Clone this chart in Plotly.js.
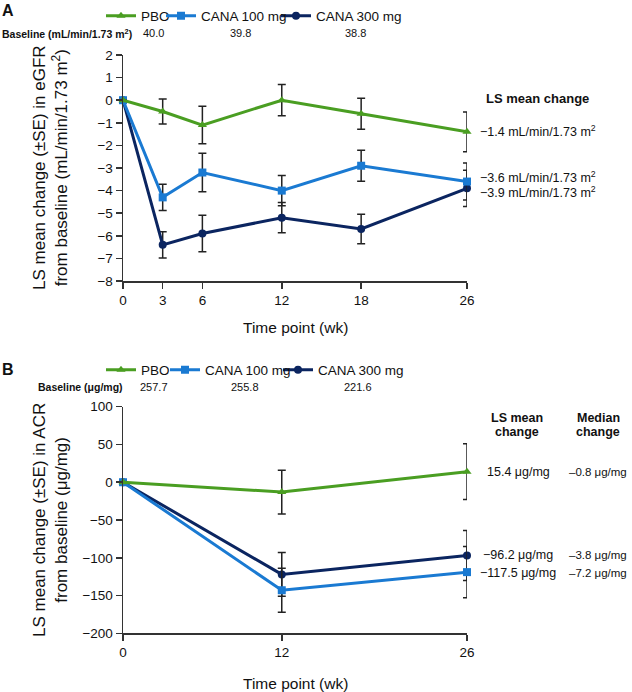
<!DOCTYPE html>
<html>
<head>
<meta charset="utf-8">
<script src="https://cdn.plot.ly/plotly-3.0.1.min.js"></script>
<style>html,body{margin:0;padding:0;background:#fff}#chart{width:632px;height:692px}</style>
</head>
<body>
<div id="chart"></div>
<script>
// ---------- DATA ----------
const seriesNames = ['PBO', 'CANA 100 mg', 'CANA 300 mg'];
const weeksA = [0, 3, 6, 12, 18, 26];
const pboA = [0, -0.5, -1.1, 0, -0.6, -1.4];
const pboA_se = [0, 0.55, 0.83, 0.69, 0.69, 0.88];
const cana100A = [0, -4.3, -3.2, -4.0, -2.9, -3.6];
const cana100A_se = [0, 0.58, 0.85, 0.67, 0.69, 0.82];
const cana300A = [0, -6.4, -5.9, -5.2, -5.7, -3.9];
const cana300A_se = [0, 0.58, 0.81, 0.67, 0.65, 0.8];
const baselineA = ['40.0', '39.8', '38.8'];
const lsLabelsA = ['\u22121.4 mL/min/1.73 m<sup>2</sup>', '\u22123.6 mL/min/1.73 m<sup>2</sup>', '\u22123.9 mL/min/1.73 m<sup>2</sup>'];

const weeksB = [0, 12, 26];
const pboB = [0, -13, 14];
const pboB_se = [0, 29, 37];
const cana100B = [0, -143, -119];
const cana100B_se = [0, 29, 34];
const cana300B = [0, -122, -97];
const cana300B_se = [0, 29, 33];
const baselineB = ['257.7', '255.8', '221.6'];
const lsLabelsB = ['15.4 \u03bcg/mg', '\u2212117.5 \u03bcg/mg', '\u221296.2 \u03bcg/mg'];
const medLabelsB = ['\u20130.8 \u03bcg/mg', '\u20137.2 \u03bcg/mg', '\u20133.8 \u03bcg/mg'];

const tickValsA = [0, 3, 6, 12, 18, 26];
const tickValsB = [0, 12, 26];

// ---------- STYLE ----------
const FONT = '"Liberation Sans", Arial, Helvetica, sans-serif';
const colors = ['#4a9e22', '#1a7ad2', '#0b2560'];
const symbols = ['triangle-up', 'square', 'circle'];
const W = 632, H = 692;
const px = v => v / W;
const py = v => 1 - v / H;

function mk(x, y, se, i, xa, ya, leg) {
  return {
    type: 'scatter', mode: 'lines+markers', x: x, y: y,
    name: seriesNames[i], xaxis: xa, yaxis: ya, legend: leg,
    cliponaxis: false,
    line: {color: colors[i], width: 3},
    marker: {color: colors[i], symbol: symbols[i], size: 8},
    error_y: {type: 'data', array: se, visible: true, color: '#222', thickness: 1.5, width: 4},
    hoverinfo: 'skip'
  };
}

const traces = [
  mk(weeksA, cana300A, cana300A_se, 2, 'x', 'y', 'legend3'),
  mk(weeksA, cana100A, cana100A_se, 1, 'x', 'y', 'legend2'),
  mk(weeksA, pboA, pboA_se, 0, 'x', 'y', 'legend'),
  mk(weeksB, cana300B, cana300B_se, 2, 'x2', 'y2', 'legend6'),
  mk(weeksB, cana100B, cana100B_se, 1, 'x2', 'y2', 'legend5'),
  mk(weeksB, pboB, pboB_se, 0, 'x2', 'y2', 'legend4')
];

const axisCommon = {
  showline: true, linecolor: '#333', linewidth: 1.5, ticks: 'outside', ticklen: 6,
  tickwidth: 1.5, tickcolor: '#333', showgrid: false, zeroline: false,
  tickfont: {family: FONT, size: 13.5, color: '#111'}, fixedrange: true
};

const xDom = [px(123), px(467)];
const annFont = (s, bold) => ({family: FONT, size: s, color: '#111', weight: bold ? 'bold' : 'normal'});

const ann = [];
function A(text, x, y, xanchor, size, bold, extra) {
  ann.push(Object.assign({text: text, x: x, y: y, xref: 'paper', yref: 'paper', xanchor: xanchor, yanchor: 'middle',
    showarrow: false, font: annFont(size, bold)}, extra || {}));
}
// panel letters
A('<b>A</b>', 0, py(11), 'left', 16, true);
A('<b>B</b>', 0, py(369), 'left', 16, true);
// baselines
A('<b>Baseline (mL/min/1.73 m<sup>2</sup>)</b>', 0, py(33), 'left', 10.5, true);
[153, 240, 355].forEach((cx, i) => A(baselineA[i], px(cx), py(33), 'center', 11));
A('<b>Baseline (\u03bcg/mg)</b>', px(125), py(387), 'right', 10.5, true);
[154, 245, 358].forEach((cx, i) => A(baselineB[i], px(cx), py(387), 'center', 11));
// axis titles
A('LS mean change (\u00b1SE) in eGFR<br>from baseline (mL/min/1.73 m<sup>2</sup>)', px(50), py(168), 'center', 17, false, {textangle: -90});
A('LS mean change (\u00b1SE) in ACR<br>from baseline (\u03bcg/mg)', px(50), py(520), 'center', 17, false, {textangle: -90});
A('Time point (wk)', px(295), py(327), 'center', 15.5);
A('Time point (wk)', px(295), py(683), 'center', 15.5);
// right side labels A
A('<b>LS mean change</b>', px(537), py(98), 'center', 13, true);
A(lsLabelsA[0], px(478), py(131), 'left', 12.5);
A(lsLabelsA[1], px(478), py(177), 'left', 12.5);
A(lsLabelsA[2], px(478), py(192), 'left', 12.5);
// right side labels B
A('<b>LS mean</b>', px(517), py(418), 'center', 12.5, true);
A('<b>change</b>', px(517), py(432), 'center', 12.5, true);
A('<b>Median</b>', px(598), py(418), 'center', 12.5, true);
A('<b>change</b>', px(598), py(432), 'center', 12.5, true);
A(lsLabelsB[0], px(485), py(472), 'left', 12.5);
A(medLabelsB[0], px(567), py(472), 'left', 11.5);
A(lsLabelsB[2], px(481), py(555), 'left', 12.5);
A(medLabelsB[2], px(567), py(555), 'left', 11.5);
A(lsLabelsB[1], px(478), py(573), 'left', 12.5);
A(medLabelsB[1], px(567), py(573), 'left', 11.5);

function leg(textLeft, cy) {
  return {orientation: 'h', xanchor: 'left', yanchor: 'middle', x: px(textLeft - 40), y: py(cy),
    font: {family: FONT, size: 13.5, color: '#111'}, bgcolor: 'rgba(0,0,0,0)', itemwidth: 30};
}

const layout = {
  width: W, height: H,
  margin: {l: 0, r: 0, t: 0, b: 0},
  paper_bgcolor: '#fff', plot_bgcolor: '#fff',
  showlegend: true,
  legend: leg(141, 16), legend2: leg(201, 16), legend3: leg(316, 16),
  legend4: leg(141, 370), legend5: leg(205, 370), legend6: leg(318, 370),
  xaxis: Object.assign({}, axisCommon, {domain: xDom, range: [0, 26], tickvals: tickValsA, anchor: 'y'}),
  yaxis: Object.assign({}, axisCommon, {domain: [py(281), py(55)], range: [-8, 2], dtick: 1, tick0: 0, anchor: 'x'}),
  xaxis2: Object.assign({}, axisCommon, {domain: xDom, range: [0, 26], tickvals: tickValsB, anchor: 'y2'}),
  yaxis2: Object.assign({}, axisCommon, {domain: [py(633.3), py(406.7)], range: [-200, 100], dtick: 50, tick0: 0, anchor: 'x2'}),
  annotations: ann
};

Plotly.newPlot('chart', traces, layout, {staticPlot: true, displayModeBar: false});
</script>
</body>
</html>
